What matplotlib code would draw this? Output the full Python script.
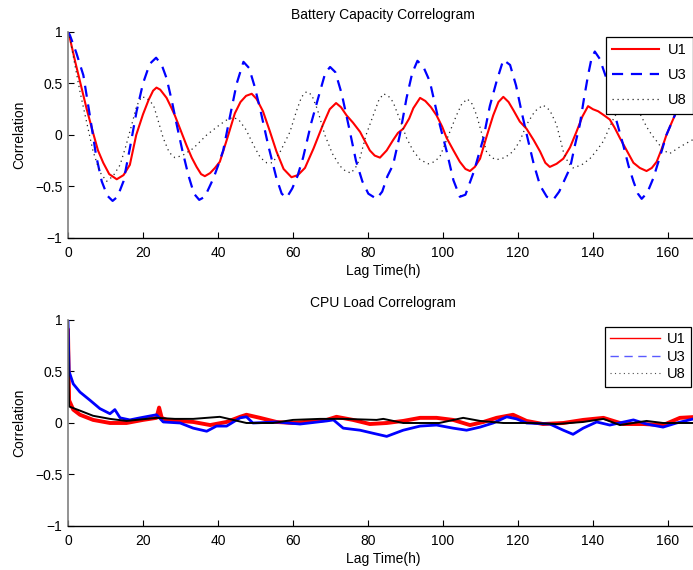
import matplotlib.pyplot as plt
from matplotlib.lines import Line2D

plt.rcParams['font.family'] = ['Liberation Sans', 'DejaVu Sans']

# ---- Battery capacity correlogram ----
t_u1 = [0, 0.5, 2, 3.2, 5, 6.7, 8, 9.4, 11, 13, 14.8, 16.5, 18.2, 20, 21.5, 22.7, 23.6, 24.6,
        26.3, 27.5, 28.5, 30, 31.6, 33, 34.3, 35.5, 36.5, 37.9, 39.2, 40.5, 42.5, 44.5, 46, 47.5,
        49, 50.3, 52, 53.8, 55.6, 57.5, 59.6, 61.3, 63.2, 65.5, 68, 69.8, 71.5, 72.8, 74.3, 76,
        77.9, 79.2, 80.5, 81.8, 83.2, 85, 86.7, 88, 89.4, 91, 92.1, 93.9, 95.3, 96.8, 98.3, 99.8,
        101, 102.8, 104.5, 106, 107.2, 108.5, 109.9, 111.6, 113.4, 114.8, 116.1, 117.5, 118.8,
        120.5, 122.3, 124.2, 125.9, 127.3, 128.5, 130.3, 132.1, 133.9, 135.6, 137.2, 138.7, 140,
        141.4, 143, 144.5, 145.8, 147.2, 149, 150.8, 152.5, 154.3, 155.7, 157, 158.3, 159.6, 161,
        162.3, 164, 166, 168]
v_u1 = [1.0, 0.94, 0.70, 0.52, 0.25, 0.02, -0.15, -0.27, -0.38, -0.43, -0.39, -0.29, 0.0, 0.2,
        0.34, 0.43, 0.46, 0.44, 0.36, 0.27, 0.19, 0.05, -0.1, -0.22, -0.31, -0.38, -0.40, -0.37,
        -0.32, -0.26, -0.03, 0.21, 0.32, 0.38, 0.40, 0.35, 0.23, 0.04, -0.16, -0.33, -0.41, -0.39,
        -0.32, -0.13, 0.1, 0.25, 0.31, 0.27, 0.19, 0.12, 0.03, -0.06, -0.15, -0.20, -0.22, -0.15,
        -0.05, 0.02, 0.06, 0.16, 0.26, 0.36, 0.33, 0.27, 0.19, 0.08, -0.03, -0.15, -0.26, -0.33,
        -0.35, -0.31, -0.23, -0.02, 0.19, 0.32, 0.37, 0.32, 0.24, 0.13, 0.06, -0.05, -0.16, -0.27,
        -0.31, -0.28, -0.23, -0.12, 0.03, 0.18, 0.28, 0.25, 0.23, 0.19, 0.15, 0.07, -0.03, -0.15,
        -0.27, -0.32, -0.35, -0.32, -0.26, -0.14, 0.0, 0.12, 0.23, 0.33, 0.40, 0.42]

t_u3 = [0, 0.5, 2.2, 4.1, 6, 7.5, 9, 10.5, 11.9, 13.2, 14.8, 16.5, 18.3, 20, 21.8, 23.5, 25,
        26.3, 27.7, 29, 30.5, 32.1, 33.6, 35, 36.5, 38.8, 40, 41.4, 43.2, 45, 46.8, 48.3, 49.7,
        51.2, 53.4, 55.6, 57, 58.3, 59.8, 61.2, 62.7, 64.9, 67.2, 68.6, 69.9, 71.3, 73, 75.2,
        76.8, 78.5, 80.1, 82.3, 83.8, 85.2, 86.7, 88.5, 90.3, 91.8, 93.2, 94.8, 96.5, 98.8, 101,
        102.8, 104.5, 106, 108.3, 110.8, 112.5, 114.3, 116.1, 117.9, 119.5, 121, 122.5, 124.2,
        125.9, 127.7, 129.4, 131, 133.9, 135.2, 136.5, 137.6, 138.7, 139.6, 140.5, 141.8, 143.6,
        145.8, 148.1, 149.5, 150.8, 152, 153, 154.5, 156.1, 157.8, 159.6, 161, 162.3, 164, 166,
        168]
v_u3 = [1.0, 0.97, 0.80, 0.58, 0.15, -0.2, -0.45, -0.59, -0.64, -0.60, -0.45, -0.13, 0.23,
        0.50, 0.69, 0.75, 0.68, 0.55, 0.33, 0.1, -0.15, -0.39, -0.57, -0.63, -0.60, -0.42, -0.30,
        -0.15, 0.18, 0.50, 0.71, 0.65, 0.48, 0.26, -0.10, -0.42, -0.57, -0.61, -0.52, -0.40,
        -0.22, 0.12, 0.42, 0.60, 0.66, 0.61, 0.40, 0.03, -0.25, -0.45, -0.57, -0.62, -0.55,
        -0.40, -0.29, 0.0, 0.36, 0.60, 0.72, 0.66, 0.52, 0.15, -0.16, -0.44, -0.60, -0.58, -0.35,
        -0.03, 0.28, 0.52, 0.73, 0.68, 0.48, 0.22, -0.02, -0.28, -0.49, -0.60, -0.63, -0.55, -0.32,
        -0.10, 0.10, 0.35, 0.58, 0.74, 0.81, 0.74, 0.55, 0.20, -0.10, -0.30, -0.45, -0.57, -0.62,
        -0.56, -0.42, -0.22, 0.0, 0.12, 0.23, 0.42, 0.62, 0.75]

t_u8 = [0, 0.5, 2, 3.2, 5, 6.7, 8.5, 10.3, 12, 13.9, 15.5, 17, 18.3, 19.6, 21, 22.8, 24.2, 25.4,
        27, 28.5, 30.5, 33.4, 37, 40.5, 42.5, 44, 45.5, 47.5, 49.5, 51.3, 53, 54.5, 56.5, 59.2,
        61, 62.3, 63.6, 65, 66.5, 68.5, 70.5, 72.5, 74, 75.5, 77, 77.9, 79.5, 81.4, 82.8, 84.1,
        85.4, 86.7, 88.5, 90.3, 92, 93.9, 96.1, 97.7, 99.2, 101.5, 103.6, 105, 106.5, 107.8, 109,
        110.3, 111.6, 113, 114.3, 116.5, 118.7, 120.5, 122.3, 124.5, 126.7, 128.5, 130.3, 132.1,
        133.4, 134.7, 137, 139.2, 141, 142.8, 144.5, 145.5, 147.3, 149, 150.8, 152.5, 154.3,
        155.7, 157, 158.8, 160.5, 163, 165.9, 168]
v_u8 = [1.0, 0.94, 0.65, 0.42, 0.12, -0.16, -0.36, -0.45, -0.40, -0.29, -0.1, 0.1, 0.28, 0.37,
        0.36, 0.29, 0.12, -0.03, -0.17, -0.22, -0.20, -0.13, 0.0, 0.1, 0.15, 0.17, 0.15, 0.05,
        -0.10, -0.22, -0.27, -0.27, -0.17, 0.03, 0.24, 0.37, 0.42, 0.39, 0.25, 0.0, -0.18, -0.30,
        -0.35, -0.37, -0.30, -0.22, 0.0, 0.19, 0.33, 0.40, 0.38, 0.32, 0.15, -0.03, -0.15, -0.24,
        -0.28, -0.26, -0.21, 0.0, 0.19, 0.30, 0.35, 0.30, 0.19, 0.02, -0.16, -0.22, -0.24, -0.22,
        -0.16, -0.06, 0.1, 0.23, 0.29, 0.24, 0.1, -0.16, -0.27, -0.32, -0.29, -0.23, -0.15, -0.06,
        0.08, 0.16, 0.27, 0.30, 0.27, 0.21, 0.08, 0.0, -0.06, -0.15, -0.18, -0.12, -0.06, -0.02]

# ---- CPU load correlogram (trend of the noisy bands) ----
c_t_u1 = [0, 0.3, 1.4, 3.2, 6.7, 11.2, 15.6, 20, 23.6, 24.3, 25, 26.3, 33.4, 37.9, 42.3, 45.9,
          47.6, 51.2, 55.6, 60, 69, 71.6, 76, 80.5, 85, 89.4, 93.9, 98.3, 102.7, 107.2, 110.8,
          114.3, 118.7, 122.3, 126.7, 132.1, 137.4, 142.8, 148.1, 153.4, 158.7, 163.2, 168]
c_v_u1 = [0.9, 0.22, 0.13, 0.08, 0.03, 0.0, 0.0, 0.03, 0.05, 0.15, 0.05, 0.03, 0.01, -0.02, 0.01,
          0.06, 0.08, 0.05, 0.01, 0.0, 0.03, 0.06, 0.03, -0.01, 0.0, 0.02, 0.05, 0.05, 0.03, -0.02,
          0.01, 0.05, 0.08, 0.02, -0.01, 0.0, 0.03, 0.05, -0.01, -0.01, -0.02, 0.05, 0.06]

c_t_u3 = [0, 0.3, 1.4, 3.2, 5.9, 8.5, 11.2, 12.5, 13.9, 16.5, 19.2, 23.6, 25.4, 29.9, 33.4, 37,
          39.6, 42.3, 45.9, 47.6, 49.3, 55.6, 61.9, 69, 70.8, 73.4, 77.9, 81.4, 85, 89.4, 93.9,
          98.3, 102.7, 106.3, 109.9, 113.4, 117, 119.6, 122.3, 128.5, 132.1, 134.7, 137.4, 141,
          144.5, 150.8, 154.3, 158.7, 162.3, 168]
c_v_u3 = [1.0, 0.5, 0.38, 0.30, 0.22, 0.14, 0.09, 0.13, 0.05, 0.03, 0.05, 0.08, 0.01, 0.0, -0.05,
          -0.08, -0.03, -0.03, 0.05, 0.06, 0.0, 0.01, -0.01, 0.02, 0.03, -0.05, -0.07, -0.10,
          -0.13, -0.07, -0.03, -0.02, -0.05, -0.07, -0.04, 0.0, 0.06, 0.04, 0.0, -0.01, -0.07,
          -0.11, -0.05, 0.01, -0.02, 0.03, -0.01, -0.04, 0.0, 0.05]

c_t_u8 = [0, 0.3, 3.2, 6.7, 11.2, 15.6, 23.6, 28.5, 33.4, 40.5, 47.6, 54.7, 60, 67.2, 73.4, 82.3,
          84.1, 89.4, 93.9, 99, 105.4, 109.9, 116.1, 123.2, 130.3, 137.4, 142.8, 147.2, 154.3,
          158.7, 164.9, 168]
c_v_u8 = [1.0, 0.16, 0.12, 0.07, 0.04, 0.02, 0.05, 0.04, 0.04, 0.06, 0.0, 0.0, 0.03, 0.04, 0.04,
          0.03, 0.04, 0.0, 0.0, 0.0, 0.05, 0.02, 0.0, 0.0, -0.01, 0.01, 0.04, -0.02, 0.02, 0.0,
          0.0, 0.0]

labels = ['U1', 'U3', 'U8']
xticks = [0, 20, 40, 60, 80, 100, 120, 140, 160]
yticks = [-1, -0.5, 0, 0.5, 1]

fig = plt.figure(figsize=(6.93, 5.70), dpi=100)
ax1 = fig.add_axes([0.0981, 0.5825, 0.909, 0.3614])
ax2 = fig.add_axes([0.0981, 0.0772, 0.909, 0.3614])

ax1.plot(t_u1, v_u1, color='red', lw=1.5, label=labels[0])
ax1.plot(t_u3, v_u3, color='blue', lw=1.6, ls=(0, (5, 3.5)), label=labels[1])
ax1.plot(t_u8, v_u8, color='0.15', lw=0.9, ls=(0, (1, 3)), label=labels[2])
ax1.set_title('Battery Capacity Correlogram', fontsize=10, pad=9)
leg1 = ax1.legend(loc='upper right', bbox_to_anchor=(0.992, 0.976), borderaxespad=0,
                  fontsize=10.5, fancybox=False, framealpha=1, edgecolor='black',
                  handlelength=3.2, labelspacing=0.75, borderpad=0.45, handletextpad=0.6)
leg1.get_frame().set_linewidth(0.9)

ax2.plot(c_t_u1, c_v_u1, color='red', lw=2.8)
ax2.plot(c_t_u3, c_v_u3, color='blue', lw=2.0)
ax2.plot(c_t_u8, c_v_u8, color='black', lw=1.4)
ax2.set_title('CPU Load Correlogram', fontsize=10, pad=9)
handles = [Line2D([], [], color='red', lw=1.0),
           Line2D([], [], color='#5a5aff', lw=1.0, ls=(0, (6, 4))),
           Line2D([], [], color='0.3', lw=0.8, ls=(0, (1, 3)))]
leg2 = ax2.legend(handles, labels, loc='upper right', bbox_to_anchor=(0.989, 0.966),
                  borderaxespad=0, fontsize=10.5, fancybox=False, framealpha=1,
                  edgecolor='black', handlelength=3.4, labelspacing=0.25, borderpad=0.35,
                  handletextpad=0.5)
leg2.get_frame().set_linewidth(0.9)

for ax in (ax1, ax2):
    ax.set_xlim(0, 168)
    ax.set_ylim(-1, 1)
    ax.set_xticks(xticks)
    ax.set_yticks(yticks)
    ax.set_yticklabels(['\u22121', '\u22120.5', '0', '0.5', '1'])
    ax.set_xlabel('Lag Time(h)', fontsize=10, labelpad=3)
    ax.set_ylabel('Correlation', fontsize=10, labelpad=6)
    ax.tick_params(direction='in', length=4, labelsize=10)
    ax.tick_params(axis='x', pad=6)
    ax.tick_params(axis='y', pad=4)
    ax.spines['top'].set_visible(False)
    ax.spines['right'].set_visible(False)
    ax.spines['left'].set_color('0.5')
    ax.spines['left'].set_linewidth(1.2)
    ax.spines['bottom'].set_linewidth(1.0)

fig.savefig('out.png', dpi=100)
